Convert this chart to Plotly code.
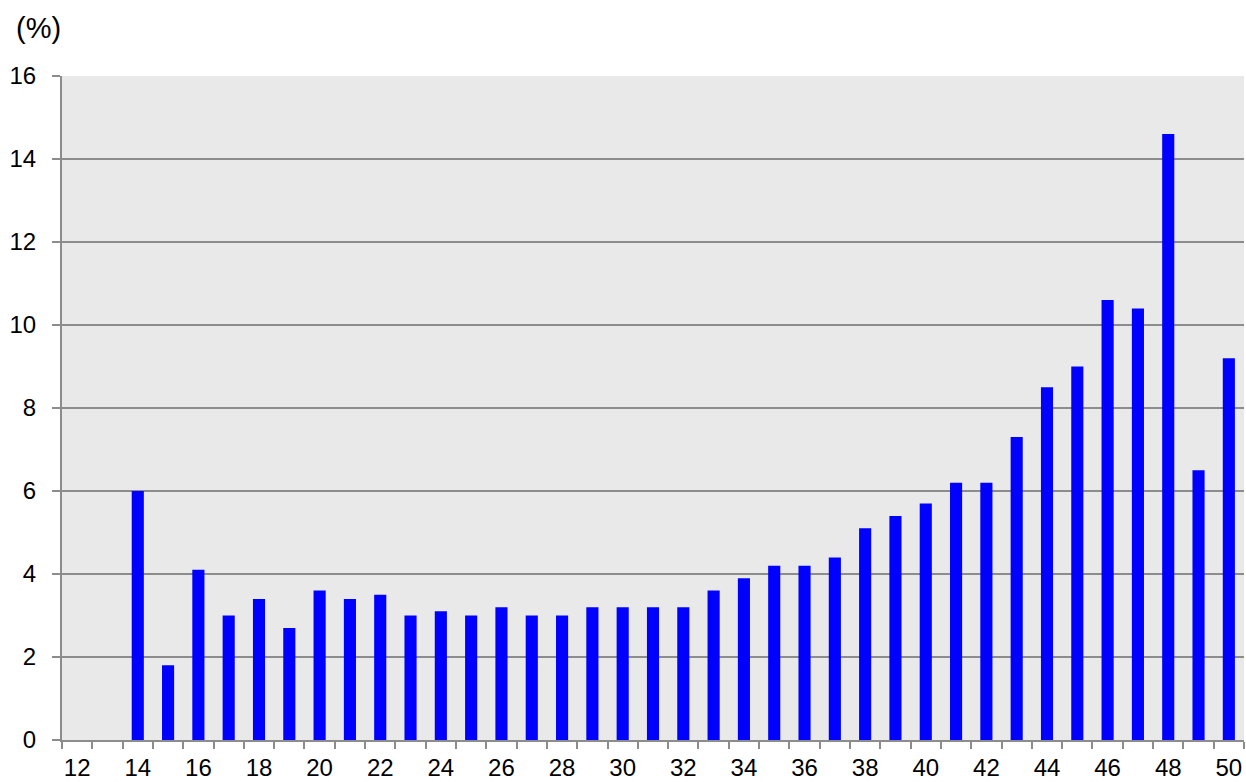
import plotly.graph_objects as go

ages = list(range(12, 51))
values = [None, None, 6.0, 1.8, 4.1, 3.0, 3.4, 2.7, 3.6, 3.4, 3.5, 3.0, 3.1, 3.0, 3.2, 3.0, 3.0,
          3.2, 3.2, 3.2, 3.2, 3.6, 3.9, 4.2, 4.2, 4.4, 5.1, 5.4, 5.7, 6.2, 6.2, 7.3, 8.5, 9.0,
          10.6, 10.4, 14.6, 6.5, 9.2]
tick_labels = [str(a) for a in range(12, 51, 2)]
y_ticks = list(range(0, 17, 2))

fig = go.Figure(go.Bar(x=ages, y=values, marker=dict(color="#0000ff", line=dict(width=0)), width=0.4))

fig.update_layout(
    width=1246, height=782,
    margin=dict(l=62, r=2, t=76, b=42),
    paper_bgcolor="white", plot_bgcolor="#e9e9e9",
    font=dict(family="Liberation Sans, Arial, sans-serif", size=24, color="black"),
    showlegend=False,
    xaxis=dict(
        range=[11.5, 50.5], automargin=False,
        tickmode="array", tickvals=list(range(12, 51, 2)), ticktext=tick_labels,
        ticks="", showgrid=False, zeroline=False,
        showline=True, linecolor="#8c8c8c", linewidth=2,
        minor=dict(tickmode="array", tickvals=[a + 0.5 for a in range(11, 51)],
                   ticks="outside", ticklen=7, tickcolor="#8c8c8c", tickwidth=2, showgrid=False),
        ticklabelstandoff=5,
    ),
    yaxis=dict(
        range=[0, 16], tickvals=y_ticks, ticks="outside", ticklen=8, tickcolor="#8c8c8c", tickwidth=2,
        showgrid=True, gridcolor="#8c8c8c", gridwidth=1.5, zeroline=False, automargin=False,
        showline=True, linecolor="#8c8c8c", linewidth=2,
        ticklabelstandoff=11,
    ),
    annotations=[dict(text="(%)", xref="paper", yref="paper", x=-0.041, y=1.1,
                      xanchor="left", yanchor="top", showarrow=False, font=dict(size=29))],
)

fig.write_html("out.html", config={"displayModeBar": False},
               post_script="document.body.style.margin='0';")
